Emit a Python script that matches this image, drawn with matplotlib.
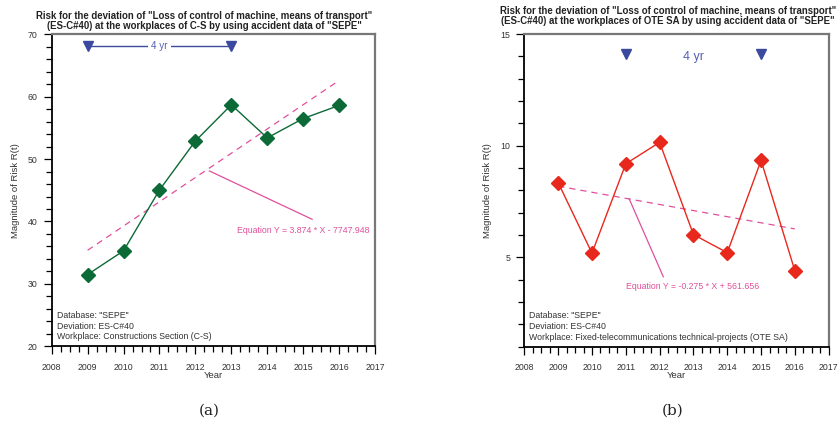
import matplotlib.pyplot as plt
import numpy as np
from matplotlib.ticker import MultipleLocator

# data
years = [2009, 2010, 2011, 2012, 2013, 2014, 2015, 2016]
risk_cs = [31.5, 35.3, 45.05, 52.9, 58.7, 53.4, 56.5, 58.6]
risk_ote = [8.35, 5.19, 9.19, 10.15, 6.02, 5.21, 9.34, 4.4]

eq_cs = "Equation Y = 3.874 * X - 7747.948"
eq_ote = "Equation Y = -0.275 * X + 561.656"
info_cs = 'Database: "SEPE"\nDeviation: ES-C#40\nWorkplace: Constructions Section (C-S)'
info_ote = 'Database: "SEPE"\nDeviation: ES-C#40\nWorkplace: Fixed-telecommunications technical-projects (OTE SA)'
title_cs = ('Risk for the deviation of "Loss of control of machine, means of transport"\n'
            '(ES-C#40) at the workplaces of C-S by using accident data of "SEPE"')
title_ote = ('Risk for the deviation of "Loss of control of machine, means of transport"\n'
             '(ES-C#40) at the workplaces of OTE SA by using accident data of "SEPE"')

plt.rcParams['font.family'] = ['Liberation Sans', 'DejaVu Sans']

TXT = '#333333'
PINK = '#e0509c'
BLUE = '#3b4a9e'
FS = 6.3

fig = plt.figure(figsize=(8.38, 4.25), dpi=100)
axA = fig.add_axes([0.0617, 0.1852, 0.3858, 0.7341])
axB = fig.add_axes([0.6257, 0.1842, 0.3632, 0.7358])


def style(ax, ylim, major, minor):
    ax.set_xlim(2008, 2017)
    ax.set_ylim(*ylim)
    ax.xaxis.set_major_locator(MultipleLocator(1))
    ax.xaxis.set_minor_locator(MultipleLocator(0.25))
    ax.yaxis.set_major_locator(MultipleLocator(major))
    ax.yaxis.set_minor_locator(MultipleLocator(minor))
    ax.tick_params(which='major', length=6, width=0.9, labelsize=FS, labelcolor=TXT, pad=6)
    ax.tick_params(which='minor', length=4, width=0.9)
    ax.tick_params(axis='y', which='major', pad=4)
    for s in ['left', 'bottom']:
        ax.spines[s].set_linewidth(1.3)
        ax.spines[s].set_color('black')
    for s in ['top', 'right']:
        ax.spines[s].set_linewidth(1.6)
        ax.spines[s].set_color('#777777')
    ax.set_xlabel('Year', fontsize=FS + 0.5, color=TXT, labelpad=-1)
    ax.set_ylabel('Magnitude of Risk R(t)', fontsize=FS + 0.5, color=TXT, labelpad=6)


# (a) C-S
style(axA, (20, 70), 10, 2)
axA.plot(years, risk_cs, color='#0b6a35', lw=1, marker='D', ms=6.8, zorder=3)
fit = np.polyfit(years, risk_cs, 1)
axA.plot([years[0], years[-1]], np.polyval(fit, [years[0], years[-1]]),
         color=PINK, lw=0.9, dashes=(5, 4))
axA.plot([2012.39, 2015.25], [48.1, 40.35], color=PINK, lw=0.9)
axA.text(2015.0, 38.5, eq_cs, color=PINK, fontsize=FS, ha='center', va='center')
axA.plot([2009, 2013], [68.1, 68.1], color=BLUE, lw=1)
axA.plot([2009, 2013], [68.1, 68.1], ls='none', marker='v', ms=7, color=BLUE)
axA.text(2011, 68.1, '4 yr', color='#5560b0', fontsize=FS + 0.8, ha='center', va='center',
         bbox=dict(facecolor='white', edgecolor='none', pad=2.5))
axA.text(0.015, 0.016, info_cs, transform=axA.transAxes, fontsize=FS, color=TXT,
         va='bottom', ha='left', linespacing=1.25)

# (b) OTE SA
style(axB, (1, 15), 5, 1)
axB.plot(years, risk_ote, color='#e8281c', lw=1, marker='D', ms=6.8, zorder=3)
fit = np.polyfit(years, risk_ote, 1)
axB.plot([years[0], years[-1]], np.polyval(fit, [years[0], years[-1]]),
         color=PINK, lw=0.9, dashes=(5, 4))
axB.plot([2011.1, 2012.11], [7.62, 4.13], color=PINK, lw=0.9)
axB.text(2012.97, 3.69, eq_ote, color=PINK, fontsize=FS, ha='center', va='center')
axB.plot([2011, 2015], [14.1, 14.1], ls='none', marker='v', ms=7, color=BLUE)
axB.text(2013, 13.97, '4 yr', color='#5560b0', fontsize=9, ha='center', va='center')
axB.text(0.015, 0.016, info_ote, transform=axB.transAxes, fontsize=FS, color=TXT,
         va='bottom', ha='left', linespacing=1.25)

fig.text(204 / 838, 1 - 21 / 425, title_cs, ha='center', va='center', fontsize=6.9,
         fontweight='bold', color='#222222', linespacing=1.1)
fig.text(668 / 838, 1 - 16 / 425, title_ote, ha='center', va='center', fontsize=6.9,
         fontweight='bold', color='#222222', linespacing=1.1)

fig.text(209 / 838, 1 - 411 / 425, '(a)', ha='center', va='center', fontsize=11,
         family='DejaVu Serif', color='#222222')
fig.text(673 / 838, 1 - 411 / 425, '(b)', ha='center', va='center', fontsize=11,
         family='DejaVu Serif', color='#222222')

fig.savefig('out.png', dpi=100)
